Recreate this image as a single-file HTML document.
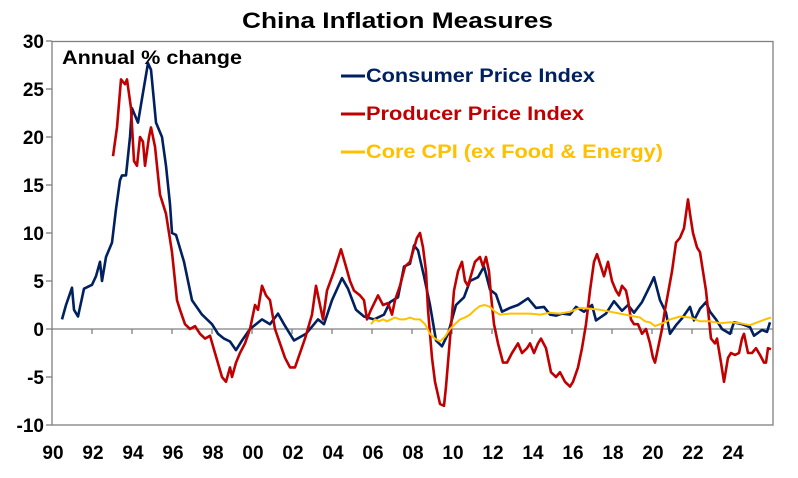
<!DOCTYPE html>
<html><head><meta charset="utf-8"><style>
html,body{margin:0;padding:0;background:#fff;}
svg{display:block;font-family:"Liberation Sans",Arial,sans-serif;font-weight:bold;}
</style></head><body>
<svg id="s" width="798" height="478" viewBox="0 0 798 478" xmlns="http://www.w3.org/2000/svg">
<rect width="798" height="478" fill="#fff"/>
<text x="242" y="28" font-size="22" textLength="311" lengthAdjust="spacingAndGlyphs" fill="#000">China Inflation Measures</text>
<g id="ax" stroke="#808080" stroke-width="1.3" fill="none"></g>
<g font-size="19" fill="#000" text-anchor="end" id="yl"></g>
<g font-size="19" fill="#000" text-anchor="middle" id="xl"></g>
<text x="62" y="64" font-size="19" textLength="180" lengthAdjust="spacingAndGlyphs" fill="#000">Annual % change</text>
<g id="lines" fill="none" stroke-width="2.6" stroke-linejoin="round"></g>
<line x1="341" y1="76" x2="365" y2="76" stroke="#002060" stroke-width="3"/>
<text x="366" y="82" font-size="19" textLength="229" lengthAdjust="spacingAndGlyphs" fill="#002060">Consumer Price Index</text>
<line x1="341" y1="114" x2="365" y2="114" stroke="#c00000" stroke-width="3"/>
<text x="366" y="120" font-size="19" textLength="218" lengthAdjust="spacingAndGlyphs" fill="#c00000">Producer Price Index</text>
<line x1="341" y1="152" x2="365" y2="152" stroke="#ffc000" stroke-width="3"/>
<text x="366" y="158" font-size="19" textLength="297" lengthAdjust="spacingAndGlyphs" fill="#ffc000">Core CPI (ex Food &amp; Energy)</text>
</svg>
<script>
var NS="http://www.w3.org/2000/svg";
function Y(v){return 329-v*9.6;}
function XY(y){return 52+(y-1990)*20;}
function el(p,t,a,txt){var e=document.createElementNS(NS,t);for(var k in a)e.setAttribute(k,a[k]);if(txt!==undefined)e.textContent=txt;document.getElementById(p).appendChild(e);}
el("ax","rect",{x:52,y:41.5,width:721,height:383.5});
el("ax","line",{x1:52,y1:329,x2:773,y2:329});
for(var v=-10;v<=30;v+=5){el("ax","line",{x1:46,y1:Y(v),x2:52,y2:Y(v)});el("yl","text",{x:44,y:Y(v)+7},String(v));}
for(var yr=1990;yr<=2024;yr+=2){var x=XY(yr);if(yr>1990)el("ax","line",{x1:x,y1:329,x2:x,y2:334});el("xl","text",{x:x+1,y:459},String(yr%100).padStart(2,"0"));}
var cpi=[[1990.5,1],[1990.7,2.5],[1991.0,4.3],[1991.1,2],[1991.3,1.3],[1991.6,4.2],[1992.0,4.6],[1992.2,5.5],[1992.4,7],[1992.5,5],[1992.7,7.5],[1993.0,9],[1993.2,12.5],[1993.4,15.5],[1993.5,16],[1993.7,16],[1993.9,20],[1994.0,23],[1994.3,21.5],[1994.5,24],[1994.8,27.7],[1994.95,27],[1995.2,21.5],[1995.5,20],[1995.7,17],[1995.9,13],[1996.0,10],[1996.2,9.8],[1996.6,7],[1997.0,3],[1997.5,1.5],[1998.0,0.5],[1998.3,-0.5],[1998.6,-1],[1998.9,-1.3],[1999.2,-2.2],[1999.5,-1.2],[1999.9,0],[2000.5,1],[2000.9,0.5],[2001.3,1.6],[2001.6,0.5],[2002.1,-1.2],[2002.7,-0.5],[2003.3,1],[2003.6,0.5],[2004.0,3],[2004.5,5.3],[2004.8,4.2],[2005.2,2],[2005.6,1.3],[2006.1,1],[2006.6,1.5],[2006.9,2.8],[2007.3,3.3],[2007.6,6.5],[2007.9,6.8],[2008.1,8.7],[2008.3,8.2],[2008.6,5.5],[2008.9,2.5],[2009.2,-1.2],[2009.5,-1.8],[2009.8,-0.5],[2010.2,2.5],[2010.6,3.3],[2010.9,5],[2011.3,5.4],[2011.6,6.5],[2011.9,4.1],[2012.2,3.6],[2012.5,1.8],[2012.9,2.2],[2013.3,2.5],[2013.8,3.2],[2014.2,2.2],[2014.6,2.3],[2014.9,1.5],[2015.2,1.4],[2015.5,1.6],[2015.9,1.5],[2016.2,2.3],[2016.6,1.8],[2017.0,2.5],[2017.2,0.9],[2017.7,1.6],[2018.1,2.9],[2018.5,1.9],[2018.8,2.5],[2019.1,1.7],[2019.5,2.8],[2019.9,4.5],[2020.1,5.4],[2020.4,3],[2020.7,1.7],[2020.9,-0.5],[2021.2,0.4],[2021.5,1.1],[2021.9,2.3],[2022.1,0.9],[2022.4,2.1],[2022.7,2.8],[2022.9,1.8],[2023.2,1],[2023.5,0],[2023.9,-0.5],[2024.1,0.7],[2024.5,0.5],[2024.9,0.2],[2025.1,-0.7],[2025.5,-0.1],[2025.75,-0.3],[2025.9,0.7]];
var ppi=[[113,18],[117,21],[121,26],[125,25.5],[127,26],[131,23],[134,17.5],[137,17],[140,20],[143,19.5],[145,17],[149,20],[151,21],[155,19],[160,14],[163,13],[166,12],[172,8],[177,3],[180,2],[185,0.5],[190,0],[195,0.3],[200,-0.5],[205,-1],[210,-0.7],[215,-2.5],[222,-5],[226,-5.5],[230,-4],[232,-5],[236,-3.5],[240,-2.5],[245,-1.5],[250,0],[255,2.5],[258,2],[262,4.5],[266,3.5],[270,3],[275,0],[280,-1.5],[285,-3],[290,-4],[295,-4],[300,-2.5],[305,-1],[312,1.5],[316,4.5],[320,2.5],[323,1],[327,4],[334,6],[341,8.3],[346,6.5],[350,5],[354,4],[360,3.5],[364,3],[367,1],[371,2],[378,3.5],[383,2.5],[388,2.7],[392,1.5],[395,3],[400,4.5],[405,6.5],[410,7],[417,9.5],[420,10],[423,8.5],[426,6],[428,2],[432,-3],[435,-5.5],[440,-7.8],[444,-8],[446,-6],[450,-1],[454,4],[458,6],[462,7],[465,5],[468,4.5],[475,7],[480,7.5],[483,6.5],[486,7.5],[489,6],[491,3.5],[494,0.5],[498,-1.5],[503,-3.5],[507,-3.5],[512,-2.5],[518,-1.5],[522,-2.5],[527,-2],[530,-1.5],[534,-2.5],[538,-1.5],[541,-1],[546,-2],[551,-4.5],[556,-5],[560,-4.5],[565,-5.5],[570,-6],[573,-5.5],[578,-4],[582,-2],[586,0.5],[590,4],[594,7],[597,7.8],[601,6.5],[604,5.5],[608,7],[612,5],[616,4],[619,3.5],[622,4.5],[626,4],[628,3],[631,1],[634,0.5],[638,0.5],[642,-0.5],[646,0],[650,-1.5],[653,-3],[655,-3.5],[658,-2],[662,0],[665,2],[672,6],[676,9],[680,9.5],[684,10.5],[688,13.5],[690,12],[693,10],[697,8.5],[700,8],[703,6],[706,4],[709,1],[711,-1],[715,-1.5],[717,-1],[721,-3.5],[724,-5.5],[728,-3],[731,-2.5],[735,-2.7],[739,-2.5],[742,-1],[744,-0.5],[748,-2.5],[752,-2.5],[756,-2],[760,-2.7],[764,-3.5],[766,-3.5],[768,-2],[771,-2.1]];
var core=[[371,0.5],[375,1],[379,0.8],[383,1],[387,0.8],[391,1],[395,1.2],[400,1],[405,1],[410,1.2],[415,1.0],[420,1],[425,0.5],[430,-0.5],[435,-1],[440,-1.3],[445,-0.8],[450,0],[455,0.5],[460,1],[465,1.2],[470,1.5],[475,2],[480,2.4],[485,2.5],[490,2.3],[495,1.8],[500,1.5],[510,1.6],[520,1.6],[530,1.6],[540,1.5],[550,1.7],[560,1.6],[570,1.8],[580,2.2],[590,2.1],[600,2],[610,1.8],[620,1.6],[630,1.4],[640,1.2],[645,0.8],[650,0.7],[655,0.3],[660,0.5],[665,0.7],[670,1],[680,1.3],[690,1.2],[700,0.8],[710,0.8],[720,0.6],[730,0.7],[740,0.6],[750,0.4],[755,0.6],[760,0.8],[765,1],[771,1.2]];
function pl(d,col,isYear,w){var p=d.map(function(q){return (isYear?XY(q[0]):q[0]).toFixed(1)+","+Y(q[1]).toFixed(1);}).join(" ");el("lines","polyline",{points:p,stroke:col,"stroke-width":w});}
pl(cpi,"#002060",true,2.6);
pl(ppi,"#c00000",false,2.6);
pl(core,"#ffc000",false,2);
</script>
</body></html>
